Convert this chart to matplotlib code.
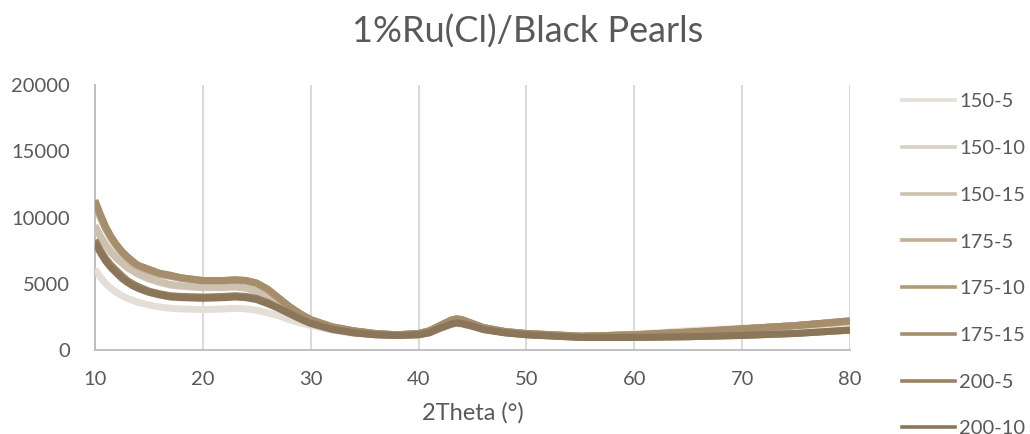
import matplotlib
matplotlib.use("Agg")
import matplotlib.pyplot as plt
from matplotlib.lines import Line2D

plt.rcParams['font.family'] = ['Lato', 'DejaVu Sans']

# 2Theta sampling positions (degrees)
two_theta = [10, 10.5, 11, 11.5, 12, 12.5, 13, 13.5, 14, 15, 16, 17, 18, 20, 22, 23, 24,
             25, 26, 27, 28, 29, 30, 32, 34, 36, 38, 40, 41, 42, 43, 43.5, 44, 45, 46, 48,
             50, 55, 60, 65, 70, 75, 80]

series_names = ['150-5', '150-10', '150-15', '175-5', '175-10', '175-15', '200-5', '200-10']

i_150_5 = [6100, 5500, 5000, 4650, 4350, 4100, 3900, 3750, 3600, 3400, 3250, 3150, 3100,
           3050, 3100, 3150, 3100, 3000, 2800, 2600, 2300, 2050, 1850, 1500, 1250, 1150,
           1100, 1150, 1300, 1600, 1900, 2000, 1950, 1750, 1550, 1300, 1150, 1000, 1200,
           1450, 1650, 1800, 2000]
i_150_10 = [9300, 8550, 7900, 7350, 6900, 6550, 6200, 5950, 5700, 5350, 5100, 4900, 4800,
            4700, 4700, 4750, 4650, 4400, 4000, 3500, 2950, 2500, 2100, 1650, 1350, 1200,
            1100, 1200, 1400, 1750, 2100, 2200, 2150, 1900, 1650, 1350, 1200, 1000, 1150,
            1400, 1600, 1850, 2200]
i_150_15 = [9400, 8600, 7950, 7400, 6950, 6600, 6250, 6000, 5750, 5400, 5150, 4950, 4850,
            4750, 4750, 4800, 4700, 4450, 4050, 3550, 3000, 2550, 2150, 1650, 1350, 1200,
            1100, 1200, 1400, 1750, 2100, 2200, 2150, 1900, 1650, 1350, 1200, 1000, 1150,
            1350, 1550, 1800, 2150]
i_175_5 = [11000, 10000, 9100, 8400, 7800, 7300, 6900, 6550, 6300, 5950, 5700, 5550, 5400,
           5200, 5200, 5250, 5200, 5000, 4550, 3900, 3250, 2700, 2250, 1750, 1450, 1250,
           1150, 1250, 1450, 1850, 2250, 2350, 2300, 2000, 1700, 1400, 1250, 1050, 1150,
           1350, 1600, 1850, 2150]
i_175_10 = [11150, 10150, 9200, 8500, 7900, 7400, 7000, 6650, 6350, 6050, 5750, 5600, 5450,
            5250, 5250, 5300, 5250, 5050, 4600, 3950, 3300, 2750, 2300, 1750, 1450, 1250,
            1150, 1250, 1450, 1850, 2250, 2350, 2300, 2000, 1700, 1400, 1250, 1050, 1150,
            1350, 1600, 1850, 2200]
i_175_15 = [11300, 10250, 9300, 8550, 7950, 7450, 7050, 6700, 6400, 6100, 5800, 5650, 5450,
            5250, 5250, 5300, 5250, 5050, 4600, 3950, 3300, 2750, 2300, 1750, 1450, 1250,
            1150, 1250, 1450, 1850, 2250, 2350, 2300, 2000, 1700, 1400, 1250, 1050, 1150,
            1350, 1600, 1850, 2200]
i_200_5 = [8300, 7550, 6900, 6400, 6000, 5600, 5250, 5000, 4800, 4450, 4250, 4100, 4050,
           4000, 4050, 4100, 4050, 3900, 3600, 3200, 2800, 2400, 2050, 1600, 1300, 1150,
           1100, 1150, 1300, 1650, 1950, 2050, 2000, 1800, 1550, 1300, 1150, 950, 950,
           1000, 1100, 1250, 1500]
i_200_10 = [8100, 7350, 6700, 6200, 5800, 5400, 5100, 4850, 4650, 4350, 4150, 4000, 3950,
            3900, 3950, 4000, 3950, 3800, 3500, 3150, 2750, 2350, 2000, 1550, 1300, 1150,
            1100, 1150, 1300, 1650, 1950, 2050, 2000, 1800, 1550, 1300, 1150, 950, 950,
            1000, 1100, 1250, 1500]

intensities = [i_150_5, i_150_10, i_150_15, i_175_5, i_175_10, i_175_15, i_200_5, i_200_10]
colors = ['#E4DED6', '#D9D0C4', '#CDC1AF', '#C1AD92', '#B09A77', '#A68E6C', '#9A8262', '#8B7659']

x_ticks = [10, 20, 30, 40, 50, 60, 70, 80]
y_ticks = [0, 5000, 10000, 15000, 20000]

fig = plt.figure(figsize=(10.30, 4.34), dpi=100)
ax = fig.add_axes([0.0922, 0.1935, 0.7330, 0.6106])

for name, vals, col in zip(series_names, intensities, colors):
    ax.plot(two_theta, vals, color=col, lw=5.0, solid_capstyle='butt',
            solid_joinstyle='round', label=name, zorder=3)

ax.set_xlim(10, 80)
ax.set_ylim(0, 20000)
ax.set_xticks(x_ticks)
ax.set_yticks(y_ticks)
ax.grid(axis='x', color='#D9D9D9', lw=1.4, zorder=0)
ax.grid(axis='y', visible=False)
for s in ['top', 'right']:
    ax.spines[s].set_visible(False)
for s in ['left', 'bottom']:
    ax.spines[s].set_color('#BFBFBF')
    ax.spines[s].set_linewidth(1.4)
ax.tick_params(length=0, labelsize=14.5, colors='#595959')
ax.tick_params(axis='x', pad=15)
ax.tick_params(axis='y', pad=18)

ax.set_xlabel('2Theta (°)', fontsize=17, color='#595959', labelpad=10)
fig.text(0.512, 0.928, '1%Ru(Cl)/Black Pearls', ha='center', va='center',
         fontsize=26, color='#595959')

handles = [Line2D([0], [0], color=c, lw=2.6) for c in colors]
leg = fig.legend(handles, series_names, loc='upper left', bbox_to_anchor=(0.8757, 0.785),
                 frameon=False, fontsize=14.5, handlelength=2.65, handletextpad=0.2,
                 labelspacing=1.47, borderaxespad=0, borderpad=0)
for t in leg.get_texts():
    t.set_color('#595959')

fig.savefig('out.png', dpi=100)
